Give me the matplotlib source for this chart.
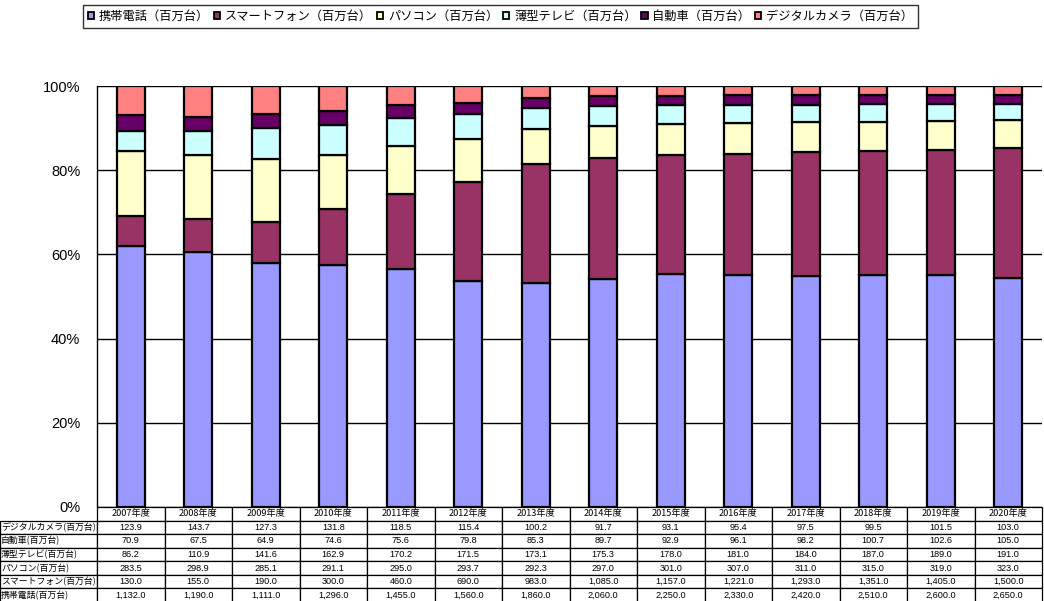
import matplotlib
matplotlib.use('Agg')
import matplotlib.pyplot as plt
from matplotlib.patches import Patch
from matplotlib.ticker import FuncFormatter
import numpy as np

plt.rcParams['font.family'] = ['Liberation Sans', 'Noto Sans CJK JP']
jp = ['Noto Sans CJK JP', 'Liberation Sans']

years = ["2007年度", "2008年度", "2009年度", "2010年度", "2011年度", "2012年度", "2013年度",
         "2014年度", "2015年度", "2016年度", "2017年度", "2018年度", "2019年度", "2020年度"]

# series, bottom to top of each stack
series_names = ["携帯電話(百万台)", "スマートフォン(百万台)", "パソコン(百万台)",
                "薄型テレビ(百万台)", "自動車(百万台)", "デジタルカメラ(百万台)"]
keitai = [1132.0, 1190.0, 1111.0, 1296.0, 1455.0, 1560.0, 1860.0, 2060.0, 2250.0, 2330.0, 2420.0, 2510.0, 2600.0, 2650.0]
smartphone = [130.0, 155.0, 190.0, 300.0, 460.0, 690.0, 983.0, 1085.0, 1157.0, 1221.0, 1293.0, 1351.0, 1405.0, 1500.0]
pasokon = [283.5, 298.9, 285.1, 291.1, 295.0, 293.7, 292.3, 297.0, 301.0, 307.0, 311.0, 315.0, 319.0, 323.0]
tv = [86.2, 110.9, 141.6, 162.9, 170.2, 171.5, 173.1, 175.3, 178.0, 181.0, 184.0, 187.0, 189.0, 191.0]
car = [70.9, 67.5, 64.9, 74.6, 75.6, 79.8, 85.3, 89.7, 92.9, 96.1, 98.2, 100.7, 102.6, 105.0]
camera = [123.9, 143.7, 127.3, 131.8, 118.5, 115.4, 100.2, 91.7, 93.1, 95.4, 97.5, 99.5, 101.5, 103.0]

colors = ["#9999FF", "#993366", "#FFFFCC", "#CCFFFF", "#660066", "#FF8080"]

data = np.array([keitai, smartphone, pasokon, tv, car, camera])
share = data / data.sum(axis=0) * 100

W, H = 1044, 601
fig = plt.figure(figsize=(W / 100, H / 100), dpi=100)
ax = fig.add_axes([97 / W, (H - 507) / H, (1042 - 97) / W, (507 - 86) / H])

x = np.arange(len(years))
bottom = np.zeros(len(years))
for vals, c in zip(share, colors):
    ax.bar(x, vals, bottom=bottom, width=0.42, color=c, edgecolor='black', linewidth=1.6, zorder=3)
    bottom += vals

ax.set_xlim(-0.5, len(years) - 0.5)
ax.set_ylim(0, 100)
ax.set_yticks([0, 20, 40, 60, 80, 100])
ax.yaxis.set_major_formatter(FuncFormatter(lambda v, p: f"{v:.0f}%"))
ax.tick_params(axis='y', length=0, labelsize=10.5, pad=12)
ax.set_xticks([])
ax.grid(axis='y', color='black', linewidth=1, zorder=0)
for s in ['top', 'right', 'bottom']:
    ax.spines[s].set_visible(False)
ax.spines['left'].set_linewidth(1)

# data table below the plot, rows in reverse stacking order
row_labels = series_names[::-1]
cell_text = [[lab] + [f"{v:,.1f}" for v in row] for lab, row in zip(row_labels, data[::-1])]
lab_w = 97 / 945
col_w = [97] + [67.5] * len(years)
tbl = ax.table(cellText=cell_text, colLabels=[""] + years, cellLoc='center',
               colWidths=[w / sum(col_w) for w in col_w],
               bbox=[-lab_w, -95 / 421, 1 + lab_w, 95 / 421])
tbl.auto_set_font_size(False)
for (r, c), cell in tbl.get_celld().items():
    cell.set_linewidth(0.9)
    cell.set_edgecolor('black')
    t = cell.get_text()
    t.set_fontsize(6.6)
    if c == 0:
        if r == 0:
            cell.visible_edges = ''
        t.set_family(jp)
        t.set_fontsize(6.4)
        t.set_horizontalalignment('left')
        cell.PAD = 0.01
    elif r == 0:
        t.set_family(jp)

# legend uses wide brackets like the original
leg_labels = [s.replace("(", "（").replace(")", "）") for s in series_names]
handles = [Patch(facecolor=c, edgecolor='black', linewidth=1.3) for c in colors]
leg = fig.legend(handles, leg_labels, loc='upper left', bbox_to_anchor=(83 / W, 1 - 5 / H),
                 ncol=6, prop={'family': jp, 'size': 8.8}, frameon=True, fancybox=False,
                 edgecolor='black', handlelength=0.5, handleheight=0.5, handletextpad=0.4,
                 columnspacing=0.4, borderpad=0.4, borderaxespad=0)
leg.get_frame().set_linewidth(1)

fig.savefig("out.png", dpi=100)
